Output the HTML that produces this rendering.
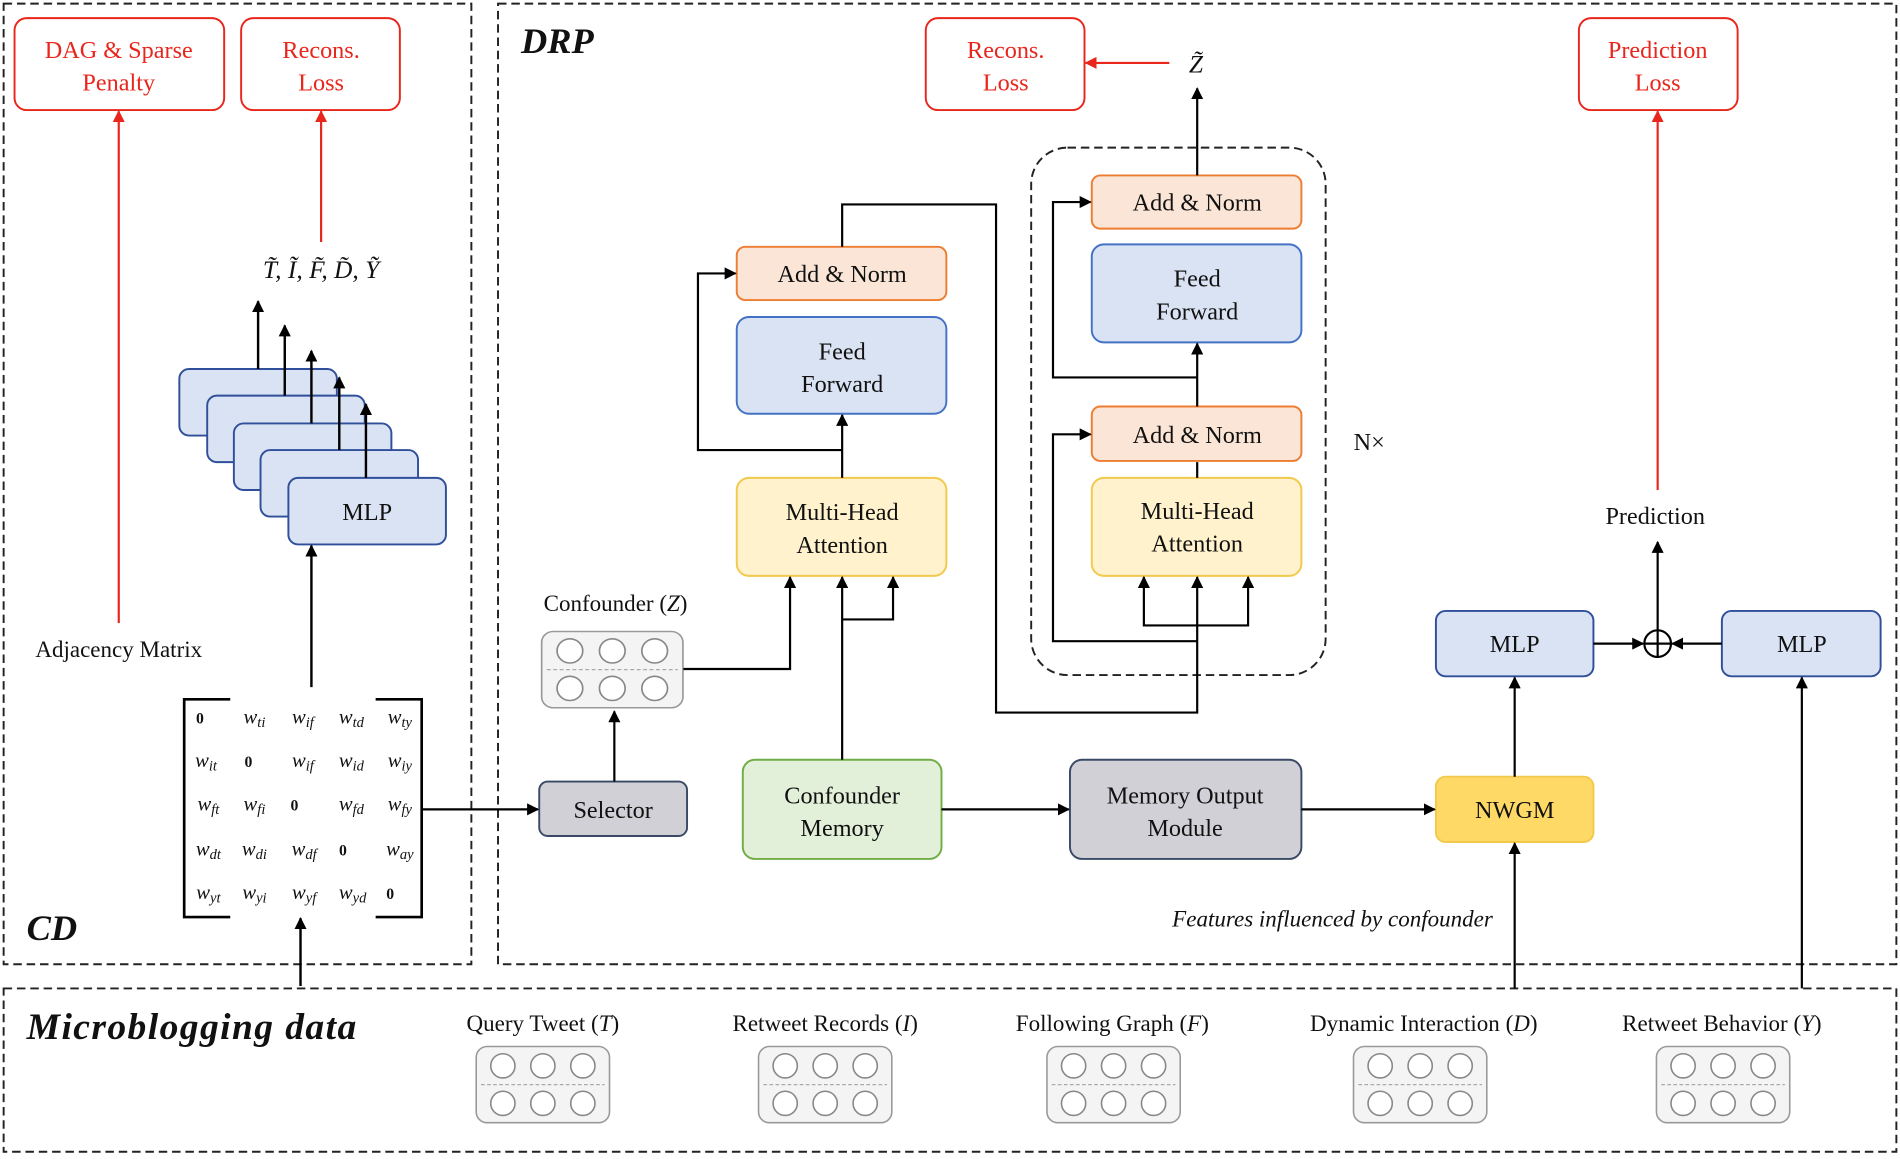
<!DOCTYPE html>
<html><head><meta charset="utf-8"><style>
html,body{margin:0;padding:0;background:#fff}
svg{display:block}
text{font-family:"Liberation Serif",serif;fill:#111}
</style></head><body>
<svg width="1900" height="1159" viewBox="0 0 1568 958" preserveAspectRatio="none" xmlns="http://www.w3.org/2000/svg">
<defs>
<marker id="a" markerWidth="10" markerHeight="10" refX="9" refY="5" orient="auto" markerUnits="userSpaceOnUse"><path d="M0,0 L10,5 L0,10 z" fill="#000"/></marker>
<marker id="r" markerWidth="10" markerHeight="10" refX="9" refY="5" orient="auto" markerUnits="userSpaceOnUse"><path d="M0,0 L10,5 L0,10 z" fill="#e8261c"/></marker>
<g id="cb"><rect x="0" y="0" width="110" height="63" rx="9" fill="#f4f4f4" stroke="#999" stroke-width="1.3"/><line x1="4" y1="31.5" x2="106" y2="31.5" stroke="#aaa" stroke-dasharray="3,2"/><circle cx="22" cy="16" r="10" fill="#fff" stroke="#888" stroke-width="1.3"/><circle cx="55" cy="16" r="10" fill="#fff" stroke="#888" stroke-width="1.3"/><circle cx="88" cy="16" r="10" fill="#fff" stroke="#888" stroke-width="1.3"/><circle cx="22" cy="47" r="10" fill="#fff" stroke="#888" stroke-width="1.3"/><circle cx="55" cy="47" r="10" fill="#fff" stroke="#888" stroke-width="1.3"/><circle cx="88" cy="47" r="10" fill="#fff" stroke="#888" stroke-width="1.3"/></g>
</defs>
<g fill="none" stroke="#222" stroke-width="1.6" stroke-dasharray="7,4">
<rect x="3" y="3" width="386" height="794"/>
<rect x="411" y="3" width="1154" height="794"/>
<rect x="3" y="817" width="1562" height="135"/>
<rect x="851" y="122" width="243" height="436" rx="30"/>
</g>
<g fill="#fff" stroke="#e8261c" stroke-width="1.6">
<rect x="12" y="15" width="173" height="76" rx="10"/>
<rect x="199" y="15" width="131" height="76" rx="10"/>
<rect x="764" y="15" width="131" height="76" rx="10"/>
<rect x="1303" y="15" width="131" height="76" rx="10"/>
</g>
<g font-size="20" text-anchor="middle">
<text x="98" y="48" style="fill:#e8261c">DAG &amp; Sparse</text><text x="98" y="75" style="fill:#e8261c">Penalty</text>
<text x="265" y="48" style="fill:#e8261c">Recons.</text><text x="265" y="75" style="fill:#e8261c">Loss</text>
<text x="830" y="48" style="fill:#e8261c">Recons.</text><text x="830" y="75" style="fill:#e8261c">Loss</text>
<text x="1368" y="48" style="fill:#e8261c">Prediction</text><text x="1368" y="75" style="fill:#e8261c">Loss</text>
</g>
<g stroke="#e8261c" stroke-width="1.8" marker-end="url(#r)">
<line x1="98" y1="515" x2="98" y2="92"/>
<line x1="265" y1="200" x2="265" y2="92"/>
<line x1="965" y1="52" x2="896" y2="52"/>
<line x1="1368" y1="405" x2="1368" y2="92"/>
</g>
<text x="265" y="230" font-size="21" font-style="italic" text-anchor="middle">T̃, Ĩ, F̃, D̃, Ỹ</text>
<g fill="#dae3f3" stroke="#2f4f9a" stroke-width="1.6">
<rect x="148" y="305" width="130" height="55" rx="8"/>
<rect x="171" y="327" width="130" height="55" rx="8"/>
<rect x="193" y="350" width="130" height="55" rx="8"/>
<rect x="215" y="372" width="130" height="55" rx="8"/>
<rect x="238" y="395" width="130" height="55" rx="8"/>
</g>
<text x="303" y="430" font-size="20" text-anchor="middle">MLP</text>
<g stroke="#000" stroke-width="2" marker-end="url(#a)">
<line x1="213" y1="305" x2="213" y2="249"/>
<line x1="235" y1="327" x2="235" y2="269"/>
<line x1="257" y1="350" x2="257" y2="290"/>
<line x1="280" y1="372" x2="280" y2="312"/>
<line x1="302" y1="395" x2="302" y2="334"/>
<line x1="257" y1="568" x2="257" y2="451"/>
<line x1="248" y1="815" x2="248" y2="759"/>
</g>
<text x="98" y="543" font-size="19" text-anchor="middle">Adjacency Matrix</text>
<g fill="none" stroke="#000" stroke-width="2.2">
<path d="M190,578 H152 V758 H190"/><path d="M310,578 H348 V758 H310"/>
</g>
<g font-size="17" font-style="italic" text-anchor="middle">
<text x="165" y="598" font-style="normal" font-family="Liberation Sans" font-weight="bold" font-size="13">0</text><text x="210" y="598">w<tspan font-size="12" dy="3">ti</tspan></text><text x="250" y="598">w<tspan font-size="12" dy="3">if</tspan></text><text x="290" y="598">w<tspan font-size="12" dy="3">td</tspan></text><text x="330" y="598">w<tspan font-size="12" dy="3">ty</tspan></text>
<text x="170" y="634">w<tspan font-size="12" dy="3">it</tspan></text><text x="205" y="634" font-style="normal" font-family="Liberation Sans" font-weight="bold" font-size="13">0</text><text x="250" y="634">w<tspan font-size="12" dy="3">if</tspan></text><text x="290" y="634">w<tspan font-size="12" dy="3">id</tspan></text><text x="330" y="634">w<tspan font-size="12" dy="3">iy</tspan></text>
<text x="172" y="670">w<tspan font-size="12" dy="3">ft</tspan></text><text x="210" y="670">w<tspan font-size="12" dy="3">fi</tspan></text><text x="243" y="670" font-style="normal" font-family="Liberation Sans" font-weight="bold" font-size="13">0</text><text x="290" y="670">w<tspan font-size="12" dy="3">fd</tspan></text><text x="330" y="670">w<tspan font-size="12" dy="3">fy</tspan></text>
<text x="172" y="707">w<tspan font-size="12" dy="3">dt</tspan></text><text x="210" y="707">w<tspan font-size="12" dy="3">di</tspan></text><text x="251" y="707">w<tspan font-size="12" dy="3">df</tspan></text><text x="283" y="707" font-style="normal" font-family="Liberation Sans" font-weight="bold" font-size="13">0</text><text x="330" y="707">w<tspan font-size="12" dy="3">ay</tspan></text>
<text x="172" y="743">w<tspan font-size="12" dy="3">yt</tspan></text><text x="210" y="743">w<tspan font-size="12" dy="3">yi</tspan></text><text x="251" y="743">w<tspan font-size="12" dy="3">yf</tspan></text><text x="291" y="743">w<tspan font-size="12" dy="3">yd</tspan></text><text x="322" y="743" font-style="normal" font-family="Liberation Sans" font-weight="bold" font-size="13">0</text>
</g>
<text x="22" y="777" font-size="30" font-weight="bold" font-style="italic">CD</text>
<text x="430" y="44" font-size="30" font-weight="bold" font-style="italic">DRP</text>
<text x="22" y="859" font-size="31" font-weight="bold" font-style="italic" textLength="272">Microblogging data</text>
<rect x="445" y="646" width="122" height="45" rx="7" fill="#d0d0d6" stroke="#3a4a66" stroke-width="1.6"/>
<text x="506" y="676" font-size="20" text-anchor="middle">Selector</text>
<g transform="translate(447,522) scale(1.06,1)"><use href="#cb"/></g>
<text x="508" y="505" font-size="19" text-anchor="middle">Confounder (<tspan font-style="italic">Z</tspan>)</text>
<rect x="613" y="628" width="164" height="82" rx="10" fill="#e2f0d9" stroke="#70ad47" stroke-width="1.6"/>
<text x="695" y="664" font-size="20" text-anchor="middle">Confounder</text><text x="695" y="691" font-size="20" text-anchor="middle">Memory</text>
<rect x="883" y="628" width="191" height="82" rx="10" fill="#d0d0d6" stroke="#3a4a66" stroke-width="1.6"/>
<text x="978" y="664" font-size="20" text-anchor="middle">Memory Output</text><text x="978" y="691" font-size="20" text-anchor="middle">Module</text>
<g stroke-width="1.6">
<rect x="608" y="395" width="173" height="81" rx="10" fill="#fff2cc" stroke="#f2c94c"/>
<rect x="608" y="262" width="173" height="80" rx="10" fill="#dae3f3" stroke="#4472c4"/>
<rect x="608" y="204" width="173" height="44" rx="7" fill="#fbe5d6" stroke="#ed7d31"/>
<rect x="901" y="395" width="173" height="81" rx="10" fill="#fff2cc" stroke="#f2c94c"/>
<rect x="901" y="336" width="173" height="45" rx="7" fill="#fbe5d6" stroke="#ed7d31"/>
<rect x="901" y="202" width="173" height="81" rx="10" fill="#dae3f3" stroke="#4472c4"/>
<rect x="901" y="145" width="173" height="44" rx="7" fill="#fbe5d6" stroke="#ed7d31"/>
<rect x="1185" y="642" width="130" height="54" rx="8" fill="#ffd966" stroke="#f2c94c"/>
<rect x="1185" y="505" width="130" height="54" rx="8" fill="#dae3f3" stroke="#2f4f9a"/>
<rect x="1421" y="505" width="131" height="54" rx="8" fill="#dae3f3" stroke="#2f4f9a"/>
</g>
<g font-size="20" text-anchor="middle">
<text x="695" y="430">Multi-Head</text><text x="695" y="457">Attention</text>
<text x="695" y="297">Feed</text><text x="695" y="324">Forward</text>
<text x="695" y="233">Add &amp; Norm</text>
<text x="988" y="429">Multi-Head</text><text x="988" y="456">Attention</text>
<text x="988" y="366">Add &amp; Norm</text>
<text x="988" y="237">Feed</text><text x="988" y="264">Forward</text>
<text x="988" y="174">Add &amp; Norm</text>
<text x="1250" y="676">NWGM</text>
<text x="1250" y="539">MLP</text>
<text x="1487" y="539">MLP</text>
<text x="1366" y="433">Prediction</text>
<text x="1130" y="372">N×</text>
<text x="987" y="60" font-style="italic" font-size="21">Z̃</text>
</g>
<text x="1232" y="766" font-size="19" font-style="italic" text-anchor="end">Features influenced by confounder</text>
<g stroke="#000" stroke-width="1.8" fill="none">
<line x1="348" y1="669" x2="444" y2="669" marker-end="url(#a)"/>
<line x1="507" y1="646" x2="507" y2="588" marker-end="url(#a)"/>
<polyline points="564,553 652,553 652,477" marker-end="url(#a)"/>
<line x1="695" y1="628" x2="695" y2="477" marker-end="url(#a)"/>
<polyline points="695,512 737,512 737,477" marker-end="url(#a)"/>
<line x1="695" y1="395" x2="695" y2="343" marker-end="url(#a)"/>
<polyline points="695,372 576,372 576,226 607,226" marker-end="url(#a)"/>
<polyline points="695,204 695,169 822,169 822,589 988,589 988,477" marker-end="url(#a)"/>
<polyline points="988,517 944,517 944,477" marker-end="url(#a)"/>
<polyline points="988,517 1030,517 1030,477" marker-end="url(#a)"/>
<polyline points="988,530 869,530 869,359 900,359" marker-end="url(#a)"/>
<line x1="988" y1="395" x2="988" y2="382" />
<line x1="988" y1="336" x2="988" y2="284" marker-end="url(#a)"/>
<polyline points="988,312 869,312 869,167 900,167" marker-end="url(#a)"/>
<line x1="988" y1="145" x2="988" y2="73" marker-end="url(#a)"/>
<line x1="777" y1="669" x2="882" y2="669" marker-end="url(#a)"/>
<line x1="1074" y1="669" x2="1184" y2="669" marker-end="url(#a)"/>
<line x1="1250" y1="817" x2="1250" y2="697" marker-end="url(#a)"/>
<line x1="1250" y1="642" x2="1250" y2="560" marker-end="url(#a)"/>
<line x1="1315" y1="532" x2="1356" y2="532" marker-end="url(#a)"/>
<line x1="1421" y1="532" x2="1380" y2="532" marker-end="url(#a)"/>
<line x1="1368" y1="521" x2="1368" y2="448" marker-end="url(#a)"/>
<line x1="1487" y1="817" x2="1487" y2="560" marker-end="url(#a)"/>
<circle cx="1368" cy="532" r="11" fill="#fff"/>
<line x1="1357" y1="532" x2="1379" y2="532"/><line x1="1368" y1="521" x2="1368" y2="543"/>
</g>
<g font-size="19" text-anchor="middle">
<text x="448" y="852">Query Tweet (<tspan font-style="italic">T</tspan>)</text>
<text x="681" y="852">Retweet Records (<tspan font-style="italic">I</tspan>)</text>
<text x="918" y="852">Following Graph (<tspan font-style="italic">F</tspan>)</text>
<text x="1175" y="852">Dynamic Interaction (<tspan font-style="italic">D</tspan>)</text>
<text x="1421" y="852">Retweet Behavior (<tspan font-style="italic">Y</tspan>)</text>
</g>
<use href="#cb" x="393" y="865"/>
<use href="#cb" x="626" y="865"/>
<use href="#cb" x="864" y="865"/>
<use href="#cb" x="1117" y="865"/>
<use href="#cb" x="1367" y="865"/>
</svg>
</body></html>
